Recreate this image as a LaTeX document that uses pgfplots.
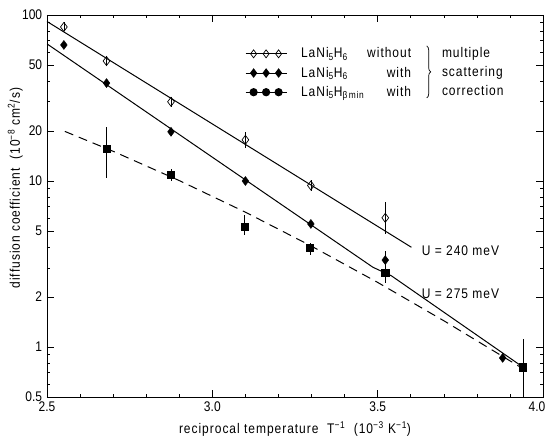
\documentclass[border=0pt]{standalone}
\usepackage{fontspec}
\setmainfont{Liberation Sans}[FakeStretch=0.86]
\newfontfamily\lblfont{Liberation Sans}[FakeStretch=0.86, LetterSpace=7]
\usepackage{pgfplots}
\pgfplotsset{compat=1.18}
\usetikzlibrary{decorations.pathreplacing}

\begin{document}
\fontsize{14}{16}\selectfont
\begin{tikzpicture}
\path[use as bounding box] (-47bp,-40bp) rectangle (499bp,397bp);
\begin{axis}[
    scale only axis, width=496bp, height=382bp,
    xmin=2.5, xmax=4.0, ymode=log, ymin=0.5, ymax=100,
    xtick={2.5,3,3.5,4}, xticklabels={2.5,3.0,3.5,\hspace*{-12bp}4.0},
    minor x tick num=4,
    ytick={0.5,1,2,5,10,20,50,100}, yticklabels={0.5,1,2,5,10,20,50,100},
    minor ytick={0.6,0.7,0.8,0.9,3,4,6,7,8,9,30,40,60,70,80,90},
    major tick length=7bp, minor tick length=3.5bp,
    every tick/.style={black, line width=0.6bp},
    axis line style={line width=0.7bp},
    /pgf/number format/assume math mode=true,
    tick label style={font=\fontsize{14}{16}\selectfont},
    label style={font=\lblfont\fontsize{14}{16}\selectfont},
    xlabel={reciprocal temperature\ \ T\textsuperscript{−1}\ \ (10\textsuperscript{−3} K\textsuperscript{−1})},
    ylabel={diffusion coefficient\ \ (10\textsuperscript{−8} cm\textsuperscript{2}/s)},
    ylabel style={at={(ticklabel cs:0.547)}, yshift=-10bp},
    legend style={at={(rel axis cs:0.399,0.92)}, anchor=north west, draw=none, fill=none,
        inner sep=0pt, row sep=3bp, font=\lblfont\fontsize{14}{16}\selectfont},
    legend cell align=left,
    legend image code/.code={
        \draw[#1, mark=none] (-8bp,0bp) -- (33bp,0bp);
        \draw[#1, only marks] plot coordinates {(0bp,0bp)(12.5bp,0bp)(25bp,0bp)};
        \path (45bp,0bp);
    },
    error bars/error bar style={line width=0.6bp, solid},
]
% legend samples
\addlegendimage{mark=diamond, mark size=4bp, mark options={fill=white, solid, line width=0.7bp}, line width=1bp}
\addlegendentry{\makebox[110bp][l]{LaNi\textsubscript{5}H\textsubscript{6}\hfill without}}
\addlegendimage{mark=diamond*, mark size=4bp, mark options={solid}, line width=1bp}
\addlegendentry{\makebox[110bp][l]{LaNi\textsubscript{5}H\textsubscript{6}\hfill with}}
\addlegendimage{mark=*, mark size=3.6bp, mark options={solid}, line width=1bp}
\addlegendentry{\makebox[110bp][l]{LaNi\textsubscript{5}H\textsubscript{β\,min}\hfill with}}

% fitted lines
\addplot[line width=1bp, forget plot] coordinates {(2.5,91.4) (3.602,3.99)};
\addplot[line width=1bp, forget plot] coordinates {(2.5,67) (3.486,3.02) (3.541,2.69) (3.93,0.78)};
\addplot[line width=1bp, dash pattern=on 9bp off 6bp, forget plot] coordinates {
    (2.554,19.9) (2.7,15.1) (2.9,10.06) (3.1,6.49) (3.3,4.05) (3.5,2.45) (3.7,1.44) (3.93,0.76)};

% LaNi5H6 without
\addplot[forget plot, only marks, mark=diamond, mark size=4.5bp, mark options={fill=white, line width=0.7bp},
    error bars/.cd, y dir=both, y explicit, error mark=none]
    coordinates {
    (2.551,84.7) += (0,6) -= (0,5)
    (2.680,52.8) += (0,4) -= (0,3.5)
    (2.875,30.0) += (0,2.2) -= (0,2)
    (3.100,17.7) += (0,2.1) -= (0,1.9)
    (3.298,9.4) += (0,0.7) -= (0,0.65)
    (3.523,6.0) += (0,1.5) -= (0,1.2)
};
% LaNi5H6 with
\addplot[forget plot, only marks, mark=diamond*, mark size=4.5bp,
    error bars/.cd, y dir=both, y explicit, error mark=none]
    coordinates {
    (2.551,66) += (0,0) -= (0,0)
    (2.680,38.9) += (0,2) -= (0,2)
    (2.875,19.8) += (0,1) -= (0,1)
    (3.100,10.0) += (0,0.4) -= (0,0.4)
    (3.298,5.51) += (0,0.25) -= (0,0.25)
    (3.523,3.34) += (0,0.45) -= (0,0.3)
    (3.878,0.86) += (0,0) -= (0,0)
};
% LaNi5H_beta-min with
\addplot[forget plot, only marks, mark=square*, mark size=3.6bp,
    error bars/.cd, y dir=both, y explicit, error mark=none]
    coordinates {
    (2.680,15.6) += (0,5.6) -= (0,5.2)
    (2.875,10.9) += (0,0.9) -= (0,0.9)
    (3.098,5.3) += (0,0.9) -= (0,0.6)
    (3.295,3.95) += (0,0.3) -= (0,0.35)
    (3.523,2.79) += (0,0.35) -= (0,0.35)
    (3.939,0.755) += (0,0.37) -= (0,0.255)
};

\draw[line width=0.7bp, decorate, decoration={brace, amplitude=4bp}]
    (rel axis cs:0.7655,0.919) -- (rel axis cs:0.7655,0.783);
\node[anchor=west, align=left, inner sep=0pt, font=\lblfont\fontsize{14}{19}\selectfont]
    at (rel axis cs:0.796,0.851) {multiple\\scattering\\correction};
\node[anchor=west, inner sep=0pt, font=\lblfont\fontsize{14}{16}\selectfont] at (axis cs:3.633,3.79) {U = 240 meV};
\node[anchor=west, inner sep=0pt, font=\lblfont\fontsize{14}{16}\selectfont] at (axis cs:3.633,2.09) {U = 275 meV};
\end{axis}
\end{tikzpicture}
\end{document}
